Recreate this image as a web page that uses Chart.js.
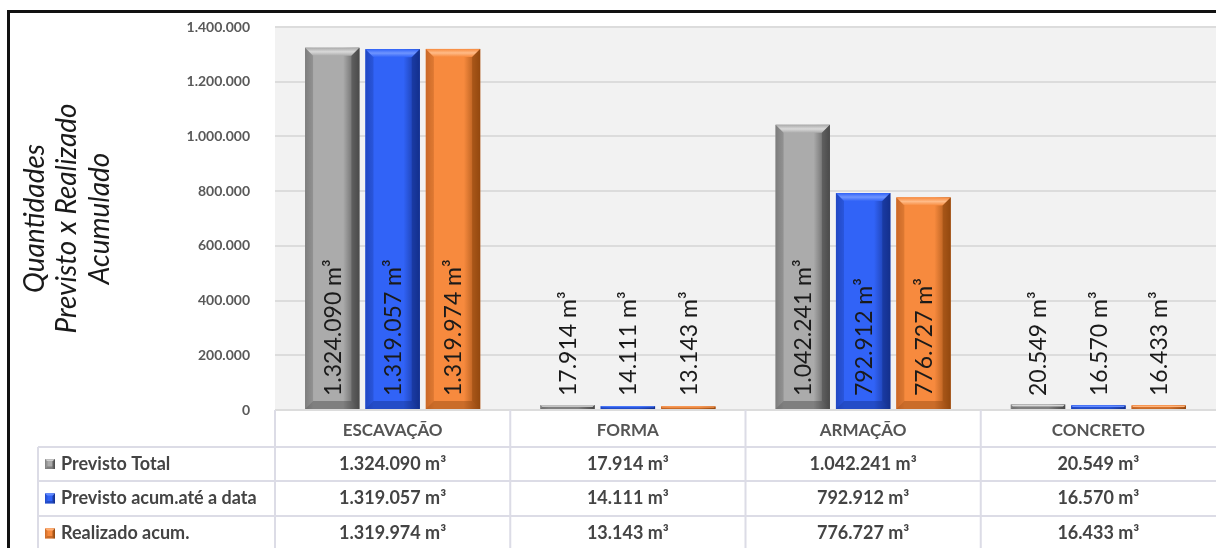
<!DOCTYPE html>
<html>
<head>
<meta charset="utf-8">
<script src="https://cdn.jsdelivr.net/npm/chart.js@4/dist/chart.umd.min.js"></script>
<style>
  html, body { margin: 0; padding: 0; background: #fff; }
  #frame { position: absolute; left: 7px; top: 10px; width: 1300px; height: 600px;
           border-left: 3px solid #111; border-top: 3px solid #111; }
  #grafico { position: absolute; left: 0; top: 0; }
</style>
</head>
<body>
<div id="frame"></div>
<canvas id="grafico" width="1216" height="548"></canvas>
<script>
// dados
var categorias = ['ESCAVAÇÃO', 'FORMA', 'ARMAÇÃO', 'CONCRETO']
var series = ['Previsto Total', 'Previsto acum.até a data', 'Realizado acum.']
var previstoTotal = [1324090, 17914, 1042241, 20549]
var previstoAcum = [1319057, 14111, 792912, 16570]
var realizadoAcum = [1319974, 13143, 776727, 16433]
var tituloEixo = ['Quantidades', 'Previsto x Realizado', 'Acumulado']
var unidade = ' m³'

var cores = [
  { base: '#ababab', mid: '#8e8e8e', light: '#d9d9d9', dark: '#4a4a4a' },
  { base: '#3163f7', mid: '#2650d6', light: '#6f95ff', dark: '#14308c' },
  { base: '#f78a3e', mid: '#dd7430', light: '#ffbb88', dark: '#93480f' }
]

var fmt = (v) => String(v).replace(/\B(?=(\d{3})+(?!\d))/g, '.')

var FONTE = 'Lato, "DejaVu Sans", sans-serif'

function bevel (ctx, x, top, bottom, w, c) {
  var l = x - w / 2, r = x + w / 2, h = bottom - top
  if (h <= 0) return
  var b = Math.min(8, h / 2, w / 4)
  var g = ctx.createLinearGradient(l, 0, r, 0)
  g.addColorStop(0, c.mid)
  g.addColorStop(0.15, c.base)
  g.addColorStop(0.7, c.base)
  g.addColorStop(1, c.dark)
  ctx.fillStyle = g
  ctx.fillRect(l, top, w, h)
  // topo
  var gt = ctx.createLinearGradient(0, top, 0, top + b)
  gt.addColorStop(0, c.base)
  gt.addColorStop(0.5, c.light)
  gt.addColorStop(1, c.base)
  ctx.fillStyle = gt
  ctx.beginPath()
  ctx.moveTo(l, top); ctx.lineTo(r, top); ctx.lineTo(r - b, top + b); ctx.lineTo(l + b, top + b)
  ctx.closePath(); ctx.fill()
  // lado direito
  ctx.fillStyle = c.dark
  ctx.globalAlpha = 0.55
  ctx.beginPath()
  ctx.moveTo(r, top); ctx.lineTo(r, bottom); ctx.lineTo(r - b, bottom - b); ctx.lineTo(r - b, top + b)
  ctx.closePath(); ctx.fill()
  // lado esquerdo
  ctx.globalAlpha = 0.25
  ctx.beginPath()
  ctx.moveTo(l, top); ctx.lineTo(l + b, top + b); ctx.lineTo(l + b, bottom - b); ctx.lineTo(l, bottom)
  ctx.closePath(); ctx.fill()
  // base
  ctx.globalAlpha = 0.45
  ctx.beginPath()
  ctx.moveTo(l, bottom); ctx.lineTo(l + b, bottom - b); ctx.lineTo(r - b, bottom - b); ctx.lineTo(r, bottom)
  ctx.closePath(); ctx.fill()
  ctx.globalAlpha = 1
}

var fundo = {
  id: 'fundo',
  beforeDraw (chart) {
    var a = chart.chartArea, ctx = chart.ctx
    ctx.save()
    ctx.fillStyle = '#f2f2f2'
    ctx.fillRect(a.left, a.top, a.right - a.left, a.bottom - a.top)
    ctx.restore()
  }
}

var barras3d = {
  id: 'barras3d',
  afterDatasetsDraw (chart) {
    var ctx = chart.ctx
    ctx.save()
    chart.data.datasets.forEach((ds, i) => {
      chart.getDatasetMeta(i).data.forEach((el, j) => {
        var p = el.getProps(['x', 'y', 'base', 'width'], true)
        bevel(ctx, p.x, p.y, p.base, p.width, cores[i])
        // rotulo
        ctx.save()
        ctx.translate(p.x, chart.chartArea.bottom - 14)
        ctx.rotate(-Math.PI / 2)
        ctx.font = '23px ' + FONTE
        ctx.fillStyle = '#1a1a1a'
        ctx.textAlign = 'left'
        ctx.textBaseline = 'middle'
        ctx.fillText(fmt(ds.data[j]) + unidade, 0, 1)
        ctx.restore()
      })
    })
    ctx.restore()
  }
}

var tabela = {
  id: 'tabela',
  afterDraw (chart) {
    var ctx = chart.ctx, a = chart.chartArea, x = chart.scales.x
    var bordas = [447, 481, 516, 551]
    var esq = 38
    var passo = (a.right - a.left) / categorias.length
    ctx.save()
    ctx.strokeStyle = '#dcdce6'
    ctx.lineWidth = 2
    ctx.beginPath()
    // linhas horizontais
    bordas.forEach((y) => { ctx.moveTo(esq, y); ctx.lineTo(a.right, y) })
    // verticais
    ctx.moveTo(esq, bordas[0]); ctx.lineTo(esq, 548)
    for (var k = 0; k < categorias.length; k++) {
      var xl = x.getPixelForValue(k) - passo / 2
      ctx.moveTo(xl, a.bottom); ctx.lineTo(xl, 548)
    }
    ctx.stroke()

    var dados = chart.data.datasets
    dados.forEach((ds, i) => {
      var yc = (bordas[i] + bordas[i + 1]) / 2
      bevel(ctx, 50, yc - 5, yc + 5, 10, cores[i])
      ctx.font = 'bold 18px ' + FONTE
      ctx.fillStyle = '#444'
      ctx.textAlign = 'left'
      ctx.textBaseline = 'middle'
      ctx.fillText(ds.label, 61, yc)
      ds.data.forEach((v, j) => {
        ctx.textAlign = 'center'
        ctx.fillText(fmt(v) + unidade, x.getPixelForValue(j), yc)
      })
    })
    ctx.restore()
  }
}

new Chart(document.getElementById('grafico'), {
  type: 'bar',
  data: {
    labels: categorias,
    datasets: [
      { label: series[0], data: previstoTotal, backgroundColor: cores[0].base },
      { label: series[1], data: previstoAcum, backgroundColor: cores[1].base },
      { label: series[2], data: realizadoAcum, backgroundColor: cores[2].base }
    ]
  },
  options: {
    responsive: false,
    animation: false,
    categoryPercentage: 0.77,
    barPercentage: 0.9,
    layout: { padding: { left: 12, top: 27, right: 0, bottom: 0 } },
    plugins: { legend: { display: false }, tooltip: { enabled: false } },
    scales: {
      x: {
        grid: { display: false, drawTicks: false },
        border: { display: false },
        ticks: { font: { family: FONTE, size: 17, weight: 'bold' }, color: '#555', padding: 10 },
        afterFit: (s) => { s.height = 138 }
      },
      y: {
        min: 0,
        max: 1400000,
        ticks: {
          stepSize: 200000,
          callback: (v) => fmt(v),
          font: { family: FONTE, size: 14, weight: 'bold' },
          color: '#595959',
          padding: 25
        },
        grid: { color: '#dcdcdc', lineWidth: 2, drawTicks: false },
        border: { display: false },
        title: {
          display: true,
          text: tituloEixo,
          font: { family: FONTE, size: 28, style: 'italic', lineHeight: 1.15 },
          color: '#1a1a1a',
          padding: { top: 7, bottom: 0 }
        },
        afterFit: (s) => {
          s.width = 263
          s.paddingTop = 0
          s.paddingBottom = 0
        }
      }
    }
  },
  plugins: [fundo, barras3d, tabela]
})
</script>
</body>
</html>
